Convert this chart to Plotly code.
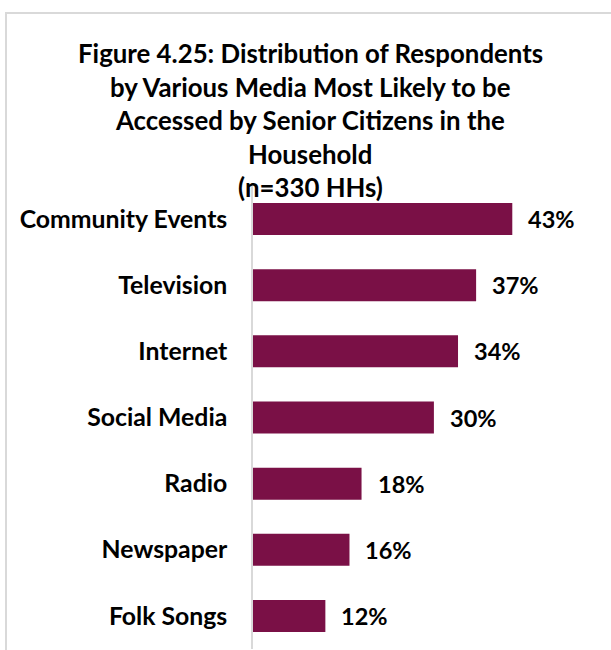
import plotly.graph_objects as go

categories = ["Community Events", "Television", "Internet", "Social Media",
              "Radio", "Newspaper", "Folk Songs"]
values = [43, 37, 34, 30, 18, 16, 12]
title_lines = ["Figure 4.25: Distribution of Respondents",
               "by Various Media Most Likely to be",
               "Accessed by Senior Citizens in the",
               "Household",
               "(n=330 HHs)"]

BAR_COLOR = "#7A1046"
FONT = "Lato"
W, H = 611, 650
ML, MR, MT, MB = 253, 8, 186, 1
PX_PER_UNIT = 6.03
plot_w = W - ML - MR
plot_h = H - MT - MB

fig = go.Figure(go.Bar(
    x=values, y=categories, orientation="h",
    marker=dict(color=BAR_COLOR, line=dict(width=0)),
    hoverinfo="skip",
))

annotations = []
for v, c in zip(values, categories):
    annotations.append(dict(
        x=v, y=c, xref="x", yref="y", text=f"{v}%", showarrow=False,
        xanchor="left", yanchor="middle", xshift=14,
        font=dict(family=FONT, size=23.5, color="black", weight="bold"),
    ))

title_centers_px = [53, 87, 120, 154, 187]
title_cx_px = 310
for line, cy in zip(title_lines, title_centers_px):
    annotations.append(dict(
        x=(title_cx_px - ML) / plot_w, y=(H - MB - cy) / plot_h,
        xref="paper", yref="paper", text=line, showarrow=False,
        xanchor="center", yanchor="middle",
        font=dict(family=FONT, size=25.8, color="black", weight="bold"),
    ))

fig.update_layout(
    width=W, height=H,
    margin=dict(l=ML, r=MR, t=MT, b=MB, pad=0),
    paper_bgcolor="white", plot_bgcolor="white",
    showlegend=False,
    bargap=0.516,
    annotations=annotations,
    xaxis=dict(range=[0, plot_w / PX_PER_UNIT], visible=False, fixedrange=True),
    yaxis=dict(
        categoryorder="array", categoryarray=categories, autorange="reversed",
        showline=True, linecolor="#d9d9d9", linewidth=1.5,
        ticks="", showgrid=False, zeroline=False,
        ticklabelstandoff=19,
        tickfont=dict(family=FONT, size=24.8, color="black", weight="bold"),
        fixedrange=True,
    ),
    shapes=[dict(
        type="rect", xref="paper", yref="paper", layer="below",
        x0=(6 - ML) / plot_w, x1=(W + 20 - ML) / plot_w,
        y0=(H - MB - (H + 20)) / plot_h, y1=(H - MB - 13) / plot_h,
        line=dict(color="#d9d9d9", width=2), fillcolor="rgba(0,0,0,0)",
    )],
)

fig.write_html("out.html", config={"displayModeBar": False})
